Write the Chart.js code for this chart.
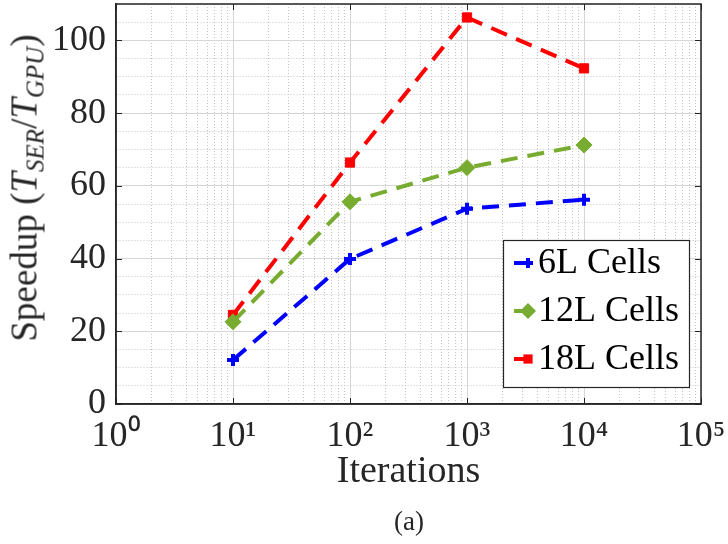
<!DOCTYPE html>
<html><head><meta charset="utf-8">
<script src="https://cdn.jsdelivr.net/npm/chart.js@4/dist/chart.umd.min.js"></script>
<style>
html,body{margin:0;padding:0;background:#fff;}
#wrap{position:relative;width:728px;height:544px;overflow:hidden;}
canvas{position:absolute;left:0;top:0;}
.txt{position:absolute;font-family:"Liberation Serif",serif;color:#262626;white-space:nowrap;}
#ytitle{left:26px;top:188px;font-size:37px;transform:translate(-50%,-50%) rotate(-90deg);}
#ytitle sub{font-size:25px;font-style:italic;vertical-align:-7px;}
#cap{left:409px;top:521px;font-size:27px;transform:translate(-50%,-50%);}
</style></head>
<body><div id="wrap"><canvas id="c" width="728" height="544"></canvas>
<div id="ytitle" class="txt">Speedup (<i>T</i><sub>SER</sub>/<i>T</i><sub>GPU</sub>)</div>
<div id="cap" class="txt">(a)</div></div>
<script>
// ---- data ----
const iterations = [10, 100, 1000, 10000];
const cells6L  = [12.1, 39.9, 53.7, 56.2];
const cells12L = [22.6, 55.6, 65.0, 71.2];
const cells18L = [24.5, 66.4, 106.3, 92.3];
const seriesNames = ['6L Cells', '12L Cells', '18L Cells'];
const xDecades = [0, 1, 2, 3, 4, 5];
const xTickLabels = ['10\u2070', '10\u00B9', '10\u00B2', '10\u00B3', '10\u2074', '10\u2075'];
const yMajorTicks = [0, 20, 40, 60, 80, 100];

const FONT = 'Liberation Serif';
const AXIS = '#262626';
const colors = ['#0000ff', '#77ac30', '#ff0000'];
const styles = ['cross', 'rectRot', 'rect'];
const radii = [6, 8, 6.5];
const pbw = [4, 1, 1];

Chart.defaults.font.family = FONT;

function isDecade(v) { const k = Math.log10(v); return Math.abs(k - Math.round(k)) < 1e-9; }

const seriesValues = [cells6L, cells12L, cells18L];
const datasets = seriesValues.map((vals, i) => ({
  label: seriesNames[i],
  data: iterations.map((x, j) => ({x: x, y: vals[j]})),
  borderColor: colors[i],
  backgroundColor: colors[i],
  borderWidth: 4,
  borderDash: [17, 10],
  tension: 0,
  fill: false,
  pointStyle: styles[i],
  pointRadius: radii[i],
  pointBorderWidth: pbw[i],
  pointBackgroundColor: colors[i],
  pointBorderColor: colors[i],
  pointHoverRadius: radii[i]
}));

function drawMarker(ctx, style, x, y, r, color) {
  ctx.save();
  ctx.fillStyle = color; ctx.strokeStyle = color; ctx.setLineDash([]);
  ctx.beginPath();
  if (style === 'cross') {
    ctx.lineWidth = 4;
    ctx.moveTo(x - r, y); ctx.lineTo(x + r, y);
    ctx.moveTo(x, y - r); ctx.lineTo(x, y + r);
    ctx.stroke();
  } else if (style === 'rectRot') {
    ctx.moveTo(x, y - r); ctx.lineTo(x + r, y); ctx.lineTo(x, y + r); ctx.lineTo(x - r, y);
    ctx.closePath(); ctx.fill();
  } else {
    const s = r * Math.SQRT1_2;
    ctx.rect(x - s, y - s, 2 * s, 2 * s); ctx.fill();
  }
  ctx.restore();
}

const framePlugin = {
  id: 'frame',
  afterDraw(chart) {
    const ctx = chart.ctx, a = chart.chartArea;
    const xs = chart.scales.x, ys = chart.scales.y;
    ctx.save();
    ctx.strokeStyle = AXIS; ctx.lineWidth = 1; ctx.setLineDash([]);
    ctx.beginPath();
    xDecades.forEach(d => {
      const px = Math.round(xs.getPixelForValue(Math.pow(10, d))) + 0.5;
      ctx.moveTo(px, a.bottom); ctx.lineTo(px, a.bottom - 6);
      ctx.moveTo(px, a.top); ctx.lineTo(px, a.top + 6);
    });
    yMajorTicks.forEach(v => {
      const py = Math.round(ys.getPixelForValue(v)) + 0.5;
      ctx.moveTo(a.left, py); ctx.lineTo(a.left + 6, py);
      ctx.moveTo(a.right, py); ctx.lineTo(a.right - 6, py);
    });
    ctx.stroke();
    ctx.lineWidth = 1.5;
    ctx.strokeRect(a.left, a.top, a.right - a.left, a.bottom - a.top);
    // legend
    const lx = 503, ly = 240, lw = 186, lh = 147;
    ctx.fillStyle = '#ffffff';
    ctx.fillRect(lx, ly, lw, lh);
    ctx.lineWidth = 1.2;
    ctx.strokeStyle = AXIS;
    ctx.strokeRect(lx + 0.5, ly + 0.5, lw, lh);
    ctx.font = '36px "' + FONT + '"';
    ctx.textBaseline = 'middle';
    ctx.textAlign = 'left';
    chart.data.datasets.forEach((ds, i) => {
      const y = ly + 23 + i * 48;
      ctx.strokeStyle = ds.borderColor; ctx.lineWidth = 4;
      ctx.beginPath(); ctx.moveTo(lx + 11, y); ctx.lineTo(lx + 29, y); ctx.stroke();
      drawMarker(ctx, ds.pointStyle, lx + 25, y, ds.pointRadius - (i === 0 ? 1 : 0), ds.borderColor);
      ctx.fillStyle = '#000';
      ctx.fillText(ds.label, lx + 35, y + 1);
    });
    ctx.restore();
  }
};

const gridDash = (isMaj) => (c) => (c && c.tick ? (isMaj(c.tick.value) ? [] : [1, 2]) : []);

function build() {
new Chart(document.getElementById('c'), {
  type: 'line',
  data: { datasets: datasets },
  plugins: [framePlugin],
  options: {
    responsive: false,
    animation: false,
    events: [],
    layout: { autoPadding: false, padding: { top: 4, right: 27, left: 0, bottom: 0 } },
    plugins: { legend: { display: false }, tooltip: { enabled: false } },
    scales: {
      x: {
        type: 'logarithmic', min: 1, max: 100000,
        afterBuildTicks(s) {
          const t = [];
          xDecades.forEach((d, i) => {
            const base = Math.pow(10, d);
            if (i < xDecades.length - 1) { for (let m = 1; m <= 9; m++) t.push({value: m * base}); }
            else t.push({value: base});
          });
          s.ticks = t;
        },
        afterFit(s) { s.height = 140; s.paddingLeft = 0; s.paddingRight = 0; },
        ticks: {
          autoSkip: false, maxRotation: 0, minRotation: 0, padding: 11,
          color: AXIS, font: { family: FONT, size: 36 },
          callback: (v) => isDecade(v) ? xTickLabels[xDecades.indexOf(Math.round(Math.log10(v)))] : ''
        },
        grid: {
          drawTicks: false, lineWidth: 1,
          color: (c) => (c.tick && isDecade(c.tick.value)) ? '#d6d6d6' : '#c4c4c4'
        },
        border: { display: true, color: AXIS, width: 1.5, dash: gridDash(isDecade) },
        title: { display: true, text: 'Iterations', color: AXIS, font: { family: FONT, size: 38 }, padding: { top: 0, bottom: 49 } }
      },
      y: {
        type: 'linear', min: 0, max: 110,
        afterFit(s) { s.width = 116; s.paddingTop = 0; s.paddingBottom = 0; },
        ticks: {
          stepSize: 5, autoSkip: false, padding: 10,
          color: AXIS, font: { family: FONT, size: 36 },
          callback: (v) => yMajorTicks.includes(v) ? String(v) : ''
        },
        grid: {
          drawTicks: false, lineWidth: 1,
          color: (c) => (c.tick && yMajorTicks.includes(c.tick.value)) ? '#d6d6d6' : '#c4c4c4'
        },
        border: { display: true, color: AXIS, width: 1.5, dash: gridDash(v => yMajorTicks.includes(v)) }
      }
    }
  }
});
}
if (document.fonts && document.fonts.load) {
  document.fonts.load('36px "Liberation Serif"').then(build, build);
} else { build(); }
</script>
</body></html>
